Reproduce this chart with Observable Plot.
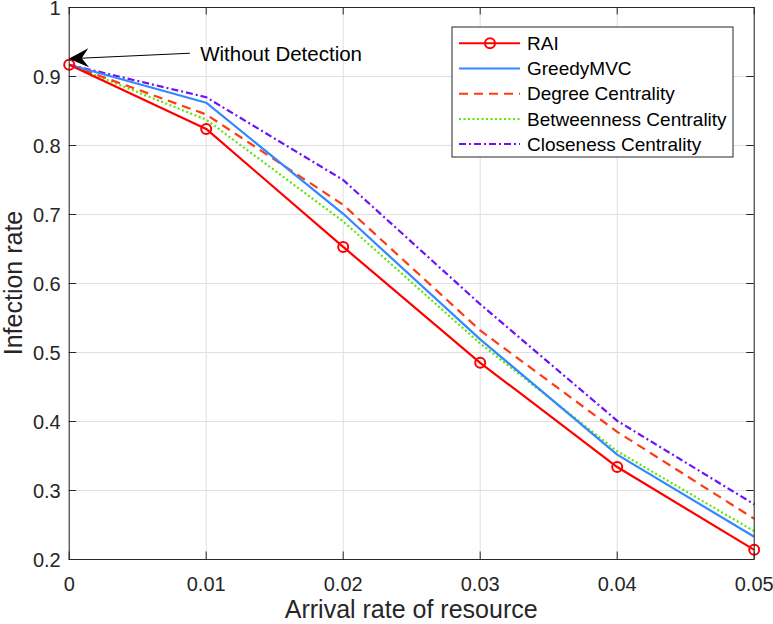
<!DOCTYPE html>
<html><head><meta charset="utf-8">
<script src="https://cdn.jsdelivr.net/npm/d3@7"></script>
<script src="https://cdn.jsdelivr.net/npm/@observablehq/plot@0.6"></script>
<style>body{margin:0;background:#fff}#chart{width:773px;height:624px}</style>
</head><body><div id="chart"></div>
<script>
// ---- data ----
const arrivalRate = [0, 0.01, 0.02, 0.03, 0.04, 0.05];
const raiValues = [0.917, 0.824, 0.653, 0.485, 0.334, 0.214];
const greedyValues = [0.917, 0.862, 0.701, 0.519, 0.352, 0.233];
const degreeValues = [0.917, 0.845, 0.714, 0.532, 0.385, 0.259];
const betweennessValues = [0.917, 0.8375, 0.690, 0.513, 0.357, 0.241];
const closenessValues = [0.917, 0.870, 0.750, 0.570, 0.401, 0.280];
const seriesNames = ["RAI", "GreedyMVC", "Degree Centrality", "Betweenness Centrality", "Closeness Centrality"];
const xTicks = [0, 0.01, 0.02, 0.03, 0.04, 0.05];
const xTickLabels = ["0", "0.01", "0.02", "0.03", "0.04", "0.05"];
const yTicks = [0.2, 0.3, 0.4, 0.5, 0.6, 0.7, 0.8, 0.9, 1];
const yTickLabels = ["0.2", "0.3", "0.4", "0.5", "0.6", "0.7", "0.8", "0.9", "1"];
const xLabel = "Arrival rate of resource";
const yLabel = "Infection rate";
const annotationText = "Without Detection";
const annotationTip = [0, 0.925];
const annotationTail = [0.00885, 0.933];
const annotationTextPos = [0.0096, 0.932];

// ---- styles ----
const seriesValues = [raiValues, greedyValues, degreeValues, betweennessValues, closenessValues];
const seriesStyles = [
  {color: "#ff0000", dash: null},
  {color: "#3388ff", dash: null},
  {color: "#ff3a12", dash: "9,6"},
  {color: "#5ce600", dash: "2,2.5"},
  {color: "#6a12ff", dash: "7,3,2,3"}
];
const W = 773, H = 624, mL = 68.7, mR = 19.3, mT = 7, mB = 65;
const plotW = W - mL - mR, plotH = H - mT - mB;
const font = "'Liberation Sans', Arial, Helvetica, sans-serif";
const axisColor = "#262626";

const rows = seriesNames.map((name, i) => arrivalRate.map((x, j) => ({series: name, x, y: seriesValues[i][j]})));

const lineMarks = rows.map((data, i) => Plot.line(data, {
  x: "x", y: "y", stroke: seriesStyles[i].color, strokeWidth: 2.2,
  strokeDasharray: seriesStyles[i].dash, strokeLinejoin: "round", strokeLinecap: "butt"
})).reverse();

const tickLen = 7.5;
const plot = Plot.plot({
  width: W, height: H, marginLeft: mL, marginRight: mR, marginTop: mT, marginBottom: mB,
  style: {fontFamily: font, background: "#fff", color: axisColor, overflow: "visible"},
  x: {domain: [0, 0.05]},
  y: {domain: [0.2, 1]},
  marks: [
    Plot.gridX(xTicks, {stroke: "#dfdfdf", strokeOpacity: 1, strokeWidth: 1}),
    Plot.gridY(yTicks, {stroke: "#dfdfdf", strokeOpacity: 1, strokeWidth: 1}),
    ...lineMarks,
    Plot.dot(rows[0], {x: "x", y: "y", r: 5, stroke: seriesStyles[0].color, strokeWidth: 2, fill: "none"}),
    Plot.frame({stroke: axisColor, strokeWidth: 1}),
    Plot.tickY(yTicks, {stroke: axisColor, insetRight: plotW - tickLen}),
    Plot.tickY(yTicks, {stroke: axisColor, insetLeft: plotW - tickLen}),
    Plot.tickX(xTicks, {stroke: axisColor, insetTop: plotH - tickLen}),
    Plot.tickX(xTicks, {stroke: axisColor, insetBottom: plotH - tickLen}),
    Plot.axisY(yTicks, {tickSize: 0, tickPadding: 8.5, fontSize: 20, fill: axisColor, dy: 1.5,
      tickFormat: d => yTickLabels[yTicks.indexOf(d)], label: null}),
    Plot.axisX(xTicks, {tickSize: 0, tickPadding: 17, fontSize: 20, fill: axisColor,
      tickFormat: d => xTickLabels[xTicks.indexOf(d)], label: null})
  ]
});
document.getElementById("chart").appendChild(plot);

const sx = plot.scale("x").apply, sy = plot.scale("y").apply;
const svg = d3.select(plot);

// axis labels
svg.append("text").attr("x", mL + plotW / 2).attr("y", 618).attr("text-anchor", "middle")
  .attr("font-family", font).attr("font-size", 25).attr("fill", axisColor).text(xLabel);
svg.append("text").attr("transform", `translate(22,${mT + plotH / 2}) rotate(-90)`).attr("text-anchor", "middle")
  .attr("font-family", font).attr("font-size", 25).attr("fill", axisColor).text(yLabel);

// annotation arrow
const tip = [sx(annotationTip[0]), sy(annotationTip[1])];
const tail = [sx(annotationTail[0]), sy(annotationTail[1])];
const ang = Math.atan2(tail[1] - tip[1], tail[0] - tip[0]);
const L = 20, Wd = 9.5, notch = 13;
const rot = (dx, dy) => [tip[0] + dx * Math.cos(ang) - dy * Math.sin(ang), tip[1] + dx * Math.sin(ang) + dy * Math.cos(ang)];
svg.append("line").attr("x1", tail[0]).attr("y1", tail[1]).attr("x2", rot(notch, 0)[0]).attr("y2", rot(notch, 0)[1])
  .attr("stroke", "#000").attr("stroke-width", 1);
const head = [rot(0, 0), rot(L, -Wd), rot(notch, 0), rot(L, Wd)];
svg.append("path").attr("d", "M" + head.map(p => p.join(",")).join("L") + "Z").attr("fill", "#000");
svg.append("text").attr("x", sx(annotationTextPos[0])).attr("y", sy(annotationTextPos[1])).attr("dy", "0.35em")
  .attr("text-anchor", "start")
  .attr("font-family", font).attr("font-size", 20.5).attr("fill", "#000").text(annotationText);

// legend
const lg = svg.append("g");
const lx = 452, ly = 27, lw = 281, lh = 130;
lg.append("rect").attr("x", lx).attr("y", ly).attr("width", lw).attr("height", lh)
  .attr("fill", "#fff").attr("stroke", axisColor).attr("stroke-width", 1);
seriesNames.forEach((name, i) => {
  const y = 43.3 + i * 25.2;
  lg.append("line").attr("x1", 459).attr("x2", 520).attr("y1", y).attr("y2", y)
    .attr("stroke", seriesStyles[i].color).attr("stroke-width", 2)
    .attr("stroke-dasharray", seriesStyles[i].dash);
  if (i === 0) lg.append("circle").attr("cx", 490).attr("cy", y).attr("r", 5)
    .attr("fill", "none").attr("stroke", seriesStyles[0].color).attr("stroke-width", 2);
  lg.append("text").attr("x", 527).attr("y", y).attr("dy", "0.35em").attr("text-anchor", "start")
    .attr("font-family", font).attr("font-size", 19).attr("fill", "#000").text(name);
});
</script></body></html>
